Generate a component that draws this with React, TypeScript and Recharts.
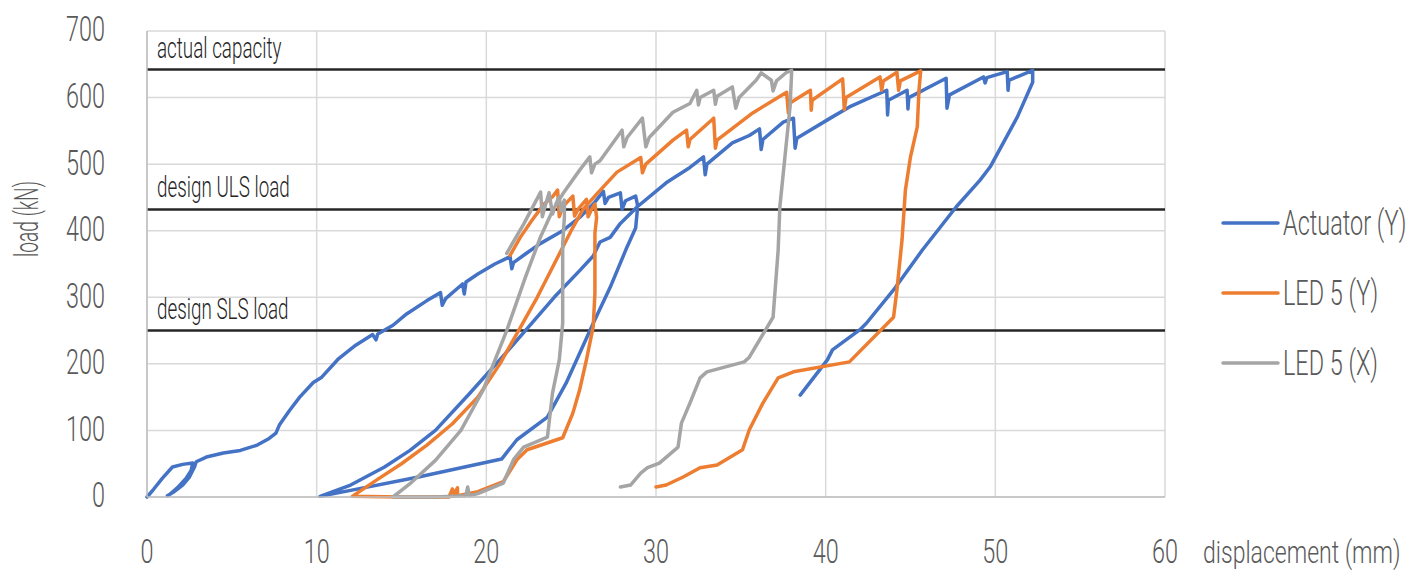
import React from 'react';
import { LineChart, Line, XAxis, YAxis, CartesianGrid, ReferenceLine, Legend } from 'recharts';

type Pt = [number, number];

const xTicks = [0, 10, 20, 30, 40, 50, 60];
const yTicks = [0, 100, 200, 300, 400, 500, 600, 700];

const seriesNames = ['Actuator (Y)', 'LED 5 (Y)', 'LED 5 (X)'];
const seriesColors = ['#4472C4', '#ED7D31', '#A5A5A5'];

const refLoads = [642, 432, 250];
const refLabels = ['actual capacity', 'design ULS load', 'design SLS load'];

const actuatorY: Pt[] = [
  [0, 0], [0.4, 12], [0.9, 28], [1.5, 45], [2.1, 49], [2.7, 51], [2.6, 40], [2.3, 28], [1.8, 14], [1.3, 3],
  [1.2, 2], [1.6, 8], [2.1, 18], [2.5, 30], [2.8, 45], [2.9, 53], [3.5, 60], [4.5, 66], [5.5, 70], [6.5, 78],
  [7.2, 88], [7.6, 96], [7.8, 108], [8.4, 130], [9.0, 150], [9.8, 172], [10.3, 180], [11.3, 208], [12.3, 228],
  [13.3, 244], [13.5, 236], [13.6, 245], [14.5, 258], [15.3, 275], [16.5, 295], [17.3, 307], [17.4, 288],
  [17.6, 298], [18.6, 320], [18.7, 305], [18.8, 323], [19.5, 335], [20.5, 350], [21.4, 361], [21.5, 343],
  [21.6, 352], [22.3, 365], [23.2, 381], [24.5, 400], [25.5, 420], [26.3, 440], [26.9, 459], [27.0, 441],
  [27.2, 450], [27.9, 457], [28.0, 432], [28.2, 445], [28.8, 452], [28.9, 440], [28.9, 431], [28.8, 404],
  [28.3, 376], [27.3, 315], [26.3, 261], [24.7, 171], [23.6, 120], [21.8, 86], [20.9, 57], [16, 30],
  [12, 10], [10.2, 1], [12, 18], [14, 45], [15.5, 70], [17, 100], [19, 155], [21, 212], [22.3, 250],
  [24, 300], [25.5, 340], [26.3, 362], [26.7, 383], [27.3, 390], [27.9, 411], [28.9, 436], [30.6, 472],
  [32, 495], [32.8, 511], [32.9, 484], [33, 500], [34.5, 532], [35.5, 543], [36.1, 553], [36.2, 522],
  [36.3, 537], [37.5, 563], [38.1, 569], [38.2, 524], [38.3, 539], [40.4, 571], [41.4, 586], [43.6, 611],
  [43.65, 574], [43.7, 596], [44.8, 611], [44.85, 583], [44.9, 600], [47.1, 629], [47.15, 584], [47.3, 604],
  [49.3, 631], [49.4, 622], [49.5, 630], [50.7, 639], [50.75, 611], [50.8, 626], [52.2, 641], [52.2, 623],
  [51.3, 571], [49.7, 496], [49.1, 476], [47.7, 436], [45.7, 371], [44.0, 311], [42.4, 261], [42.0, 251],
  [40.4, 221], [40.1, 206], [38.5, 153],
];

const led5Y: Pt[] = [
  [21.4, 363], [22.0, 390], [22.7, 416], [23.4, 440], [23.9, 451], [24.2, 461], [24.3, 421], [24.5, 436],
  [25.1, 452], [25.2, 422], [25.4, 432], [25.9, 447], [26.0, 421], [26.2, 432], [26.4, 440], [26.5, 420],
  [26.4, 396], [26.4, 306], [26.3, 256], [25.9, 206], [25.5, 161], [25.1, 126], [24.5, 89], [22.4, 71],
  [21.8, 56], [21.0, 23], [19.5, 8], [18.3, 2], [18.3, 14], [18.1, 4], [18.0, 12], [17.8, 0], [15, 0],
  [12.1, 1], [13.5, 25], [15, 50], [16.5, 78], [18, 110], [19.5, 150], [20.8, 200], [21.9, 250], [23, 300],
  [24, 350], [25, 400], [25.7, 432], [26.5, 455], [27.7, 488], [29.1, 510], [29.2, 487], [29.4, 500],
  [31.0, 536], [31.8, 551], [31.9, 526], [32.0, 537], [33.4, 569], [33.5, 524], [33.6, 536], [35.7, 577],
  [37.7, 608], [37.8, 577], [37.9, 592], [39.1, 611], [39.15, 581], [39.2, 596], [41.0, 628], [41.1, 582],
  [41.2, 600], [43.2, 631], [43.3, 611], [43.4, 625], [44.2, 638], [44.3, 611], [44.4, 625], [45.6, 640],
  [45.5, 611], [45.4, 556], [45.0, 511], [44.7, 461], [44.5, 386], [44.2, 311], [44.0, 270], [41.4, 203],
  [38.1, 188], [37.2, 179], [36.3, 141], [35.5, 101], [35.1, 71], [33.6, 48], [32.6, 44], [31.6, 30],
  [30.6, 18], [30.0, 15],
];

const led5X: Pt[] = [
  [21.2, 366], [22.2, 410], [23.2, 458], [23.3, 421], [23.5, 440], [23.7, 457], [23.9, 425], [24.1, 440],
  [24.3, 451], [24.4, 430], [24.6, 446], [24.6, 420], [24.5, 381], [24.5, 261], [24.3, 206], [23.9, 156],
  [23.6, 90], [22.2, 75], [21.6, 56], [21.0, 21], [19.5, 5], [19.0, 2], [18.9, 15], [18.8, 2], [17, 0],
  [14.5, 0], [15.5, 20], [17, 55], [18.5, 100], [19.8, 160], [21.2, 250], [22.3, 330], [23.2, 391],
  [23.9, 430], [24.5, 455], [25.5, 491], [26.1, 511], [26.2, 487], [26.4, 500], [26.7, 505], [28.0, 551],
  [28.1, 526], [28.3, 540], [29.2, 569], [29.4, 526], [29.6, 540], [31.0, 578], [32.0, 591], [32.4, 611],
  [32.5, 589], [32.6, 600], [33.4, 611], [33.5, 590], [33.6, 602], [34.5, 616], [34.7, 584], [34.9, 600],
  [35.9, 626], [36.2, 637], [36.8, 626], [36.9, 610], [37.1, 625], [37.7, 638], [38.0, 641], [37.9, 586],
  [37.5, 486], [37.3, 436], [37.2, 371], [36.9, 270], [35.5, 210], [35.2, 203], [33.0, 188], [32.6, 179],
  [32.0, 141], [31.5, 111], [31.3, 75], [30.2, 51], [29.5, 44], [29.1, 36], [28.5, 18], [27.9, 15],
];

const seriesData = [actuatorY, led5Y, led5X].map((pts) => pts.map(([x, y]) => ({ x, y })));

const FONT = 'Roboto, "Noto Sans", sans-serif';
const SX = 0.65;

function CondText(props: {
  x: number; y: number; size: number; children: React.ReactNode; anchor?: string; fill?: string;
  rotate?: number; baseline?: string; sx?: number;
}) {
  const { x, y, size, children, anchor = 'start', fill = '#595959', rotate = 0, baseline, sx = SX } = props;
  return (
    <text
      transform={`translate(${x},${y}) rotate(${rotate}) scale(${sx},1)`}
      fontFamily={FONT}
      fontSize={size}
      fontWeight={300}
      textAnchor={anchor as any}
      dominantBaseline={baseline as any}
      fill={fill}
    >
      {children}
    </text>
  );
}

const XTick = (p: any) => (
  <CondText x={p.x} y={563} size={34} sx={0.69} anchor="middle">{p.payload.value}</CondText>
);
const YTick = (p: any) => (
  <CondText x={105} y={p.y - 2} size={36} anchor="end" baseline="central">{p.payload.value}</CondText>
);

const renderLegend = () => (
  <svg width={229} height={220}>
    {seriesNames.map((n, i) => (
      <g key={n}>
        <line x1={43} x2={98} y1={43 + i * 70} y2={43 + i * 70} stroke={seriesColors[i]} strokeWidth={3.5} strokeLinecap="round" />
        <CondText x={103} y={43 + i * 70} size={35} baseline="central" sx={0.67}>{n}</CondText>
      </g>
    ))}
  </svg>
);

export default function App() {
  return (
    <div style={{ position: 'absolute', left: 0, top: 0, width: 1409, height: 572, background: '#fff' }}>
      <LineChart width={1409} height={572} margin={{ top: 31, right: 244, bottom: 0, left: 0 }}>
        <CartesianGrid stroke="#D9D9D9" strokeWidth={1.5} />
        <XAxis
          type="number"
          dataKey="x"
          domain={[0, 60]}
          ticks={xTicks}
          height={75}
          tickLine={false}
          axisLine={{ stroke: '#BFBFBF', strokeWidth: 1.5 }}
          tick={XTick}
          interval={0}
          label={{ content: () => <CondText x={1203} y={563} size={32} sx={0.72}>displacement (mm)</CondText> }}
        />
        <YAxis
          type="number"
          domain={[0, 700]}
          ticks={yTicks}
          width={147}
          tickLine={false}
          axisLine={{ stroke: '#BFBFBF', strokeWidth: 1.5 }}
          tick={YTick}
          interval={0}
          label={{ content: () => <CondText x={27} y={219} size={33} sx={0.58} rotate={-90} anchor="middle" baseline="central">load (kN)</CondText> }}
        />
        {refLoads.map((v, i) => (
          <ReferenceLine
            key={v}
            y={v}
            stroke="#262626"
            strokeWidth={2.5}
            label={{ content: (lp: any) => <CondText x={157} y={(lp.viewBox?.y ?? 0) - 12} size={29} fill="#262626">{refLabels[i]}</CondText> }}
          />
        ))}
        {seriesData.map((d, i) => (
          <Line
            key={seriesNames[i]}
            data={d}
            dataKey="y"
            name={seriesNames[i]}
            type="linear"
            stroke={seriesColors[i]}
            strokeWidth={3.5}
            strokeLinejoin="round"
            strokeLinecap="round"
            dot={false}
            activeDot={false}
            isAnimationActive={false}
          />
        ))}
        <Legend
          layout="vertical"
          align="center"
          verticalAlign="middle"
          content={renderLegend}
          wrapperStyle={{ position: 'absolute', left: 1180, top: 180, width: 229, height: 220 }}
        />
      </LineChart>
    </div>
  );
}
